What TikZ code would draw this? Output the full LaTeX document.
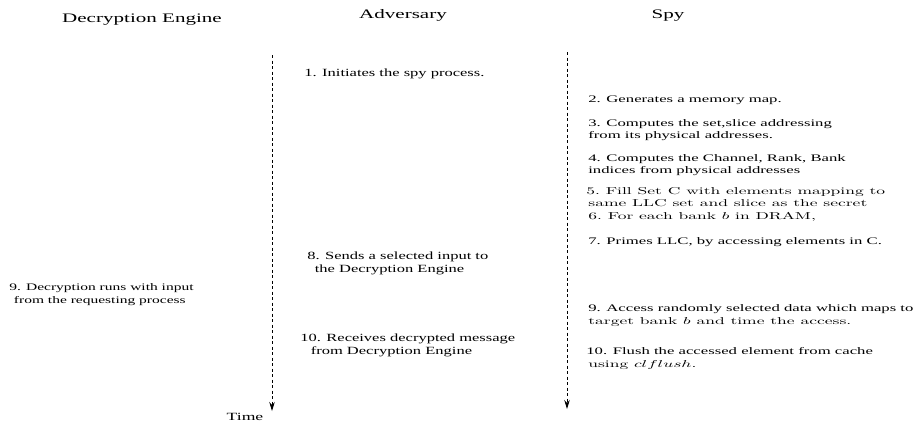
\documentclass[tikz,border=0pt]{standalone}
\usepackage{fontspec}
\newfontfamily\tms{Liberation Serif}
\usetikzlibrary{arrows.meta}

\begin{document}
\begin{tikzpicture}[x=1pt,y=-1pt,
  timeline/.style={line width=0.9pt, dash pattern=on 3pt off 2.5pt,
    -{Stealth[length=9pt,width=5.5pt]}},
  head/.style={font=\tms\fontsize{13}{15}\selectfont, xscale=1.62, inner sep=0pt, anchor=base},
  advtxt/.style={font=\tms\fontsize{11}{13}\selectfont, xscale=1.5, inner sep=0pt,
    anchor=base west, align=left},
  dectxt/.style={font=\tms\fontsize{10}{13}\selectfont, xscale=1.55, inner sep=0pt,
    anchor=base west, align=left},
  spytxt/.style={font=\tms\fontsize{10}{12}\selectfont, xscale=1.67, inner sep=0pt,
    anchor=base west},
  spylm/.style={font=\fontsize{10}{12}\selectfont, xscale=1.75, inner sep=0pt,
    anchor=base west},
  timelbl/.style={font=\tms\fontsize{11}{13}\selectfont, xscale=1.6, inner sep=0pt, anchor=base}]
\useasboundingbox (0,0) rectangle (917,424);

% column headings
\node[head] (hdec) at (142,22) {Decryption Engine};
\node[head] (hadv) at (403,18) {Adversary};
\node[head] (hspy) at (668,18) {Spy};

% time axes
\coordinate (advtop) at (272,55);
\coordinate (advbot) at (272,411);
\coordinate (spytop) at (567,52);
\coordinate (spybot) at (567,409);
\draw[timeline] (advtop) -- (advbot);
\draw[timeline] (spytop) -- (spybot);
\node[timelbl] (time) at (245,420) {Time};

% adversary
\node[advtxt] (a1) at (304,76) {1. Initiates the spy process.};
\node[advtxt] (a8) at (307,272) {8. Sends a selected input to\\[-0.5pt]\hspace{5pt}the Decryption Engine};
\node[advtxt] (a10) at (300,354) {10. Receives decrypted message\\[-0.5pt]\hspace{7pt}from Decryption Engine};

% decryption engine
\node[dectxt] (d9) at (9,303) {9. Decryption runs with input\\\hspace{3pt}from the requesting process};

% spy
\node[spytxt] (s2) at (588,102) {2. Generates a memory map.};
\node[spytxt] (s3a) at (588,126) {3. Computes the set,slice addressing};
\node[spytxt] (s3b) at (588,138) {from its physical addresses.};
\node[spytxt] (s4a) at (588,161) {4. Computes the Channel, Rank, Bank};
\node[spytxt] (s4b) at (588,173) {indices from physical addresses};
\node[spylm] (s5a) at (586,194) {5.\ Fill Set C with elements mapping to};
\node[spylm] (s5b) at (588,206) {same LLC set and slice as the secret};
\node[spylm] (s6) at (588,219) {6.\ For each bank $b$ in DRAM,};
\node[spytxt] (s7) at (588,244) {7. Primes LLC, by accessing elements in C.};
\node[spytxt] (s9a) at (588,311) {9. Access randomly selected data which maps to};
\node[spylm] (s9b) at (588,324) {target bank $b$ and time the access.};
\node[spytxt] (s10a) at (586,354) {10. Flush the accessed element from cache};
\node[spylm] (s10b) at (588,367) {using $clflush$.};
\end{tikzpicture}
\end{document}
